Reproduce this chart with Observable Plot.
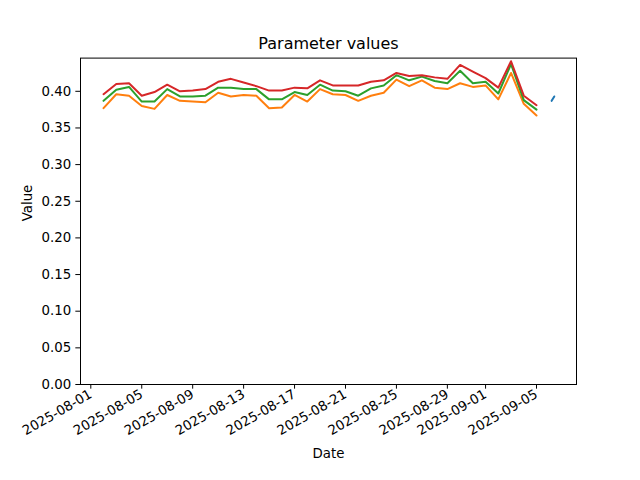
<!DOCTYPE html>
<html>
<head>
<meta charset="utf-8">
<script src="https://cdn.jsdelivr.net/npm/d3@7"></script>
<script src="https://cdn.jsdelivr.net/npm/@observablehq/plot@0.6"></script>
<style>
  html, body { margin: 0; padding: 0; background: white; }
</style>
</head>
<body>
<div id="chart"></div>
<script>
const dates = [
  "2025-08-02","2025-08-03","2025-08-04","2025-08-05","2025-08-06","2025-08-07","2025-08-08",
  "2025-08-09","2025-08-10","2025-08-11","2025-08-12","2025-08-13","2025-08-14","2025-08-15",
  "2025-08-16","2025-08-17","2025-08-18","2025-08-19","2025-08-20","2025-08-21","2025-08-22",
  "2025-08-23","2025-08-24","2025-08-25","2025-08-26","2025-08-27","2025-08-28","2025-08-29",
  "2025-08-30","2025-08-31","2025-09-01","2025-09-02","2025-09-03","2025-09-04","2025-09-05"
];
const upperValues = [
  0.396,0.410,0.411,0.394,0.399,0.409,0.400,
  0.401,0.403,0.413,0.417,0.412,0.407,0.401,
  0.401,0.405,0.404,0.415,0.408,0.408,0.408,
  0.413,0.415,0.425,0.421,0.422,0.419,0.417,
  0.436,0.427,0.418,0.405,0.441,0.394,0.381
];
const midValues = [
  0.387,0.402,0.406,0.386,0.386,0.403,0.393,
  0.393,0.394,0.405,0.405,0.403,0.403,0.389,
  0.389,0.399,0.395,0.409,0.401,0.400,0.394,
  0.404,0.408,0.422,0.415,0.420,0.414,0.411,
  0.428,0.411,0.413,0.397,0.437,0.388,0.375
];
const lowerValues = [
  0.377,0.396,0.394,0.380,0.376,0.395,0.387,
  0.386,0.385,0.398,0.393,0.395,0.394,0.377,
  0.378,0.395,0.386,0.403,0.396,0.395,0.387,
  0.394,0.398,0.416,0.407,0.415,0.405,0.403,
  0.411,0.406,0.408,0.389,0.425,0.383,0.367
];
const currentTimes = ["2025-09-06T04:30:00Z","2025-09-06T09:30:00Z"];
const currentValues = [0.387, 0.393];

const xTickLabels = ["2025-08-01","2025-08-05","2025-08-09","2025-08-13","2025-08-17",
  "2025-08-21","2025-08-25","2025-08-29","2025-09-01","2025-09-05"];
const yTickValues = [0, 0.05, 0.10, 0.15, 0.20, 0.25, 0.30, 0.35, 0.40];

const parse = d3.utcParse("%Y-%m-%d");
const seriesColors = {current: "#1f77b4", lower: "#ff7f0e", mid: "#2ca02c", upper: "#d62728"};

const rows = [];
currentTimes.forEach((t, i) => rows.push({date: new Date(t), value: currentValues[i], series: "current"}));
dates.forEach((d, i) => rows.push({date: parse(d), value: lowerValues[i], series: "lower"}));
dates.forEach((d, i) => rows.push({date: parse(d), value: midValues[i], series: "mid"}));
dates.forEach((d, i) => rows.push({date: parse(d), value: upperValues[i], series: "upper"}));

const chart = Plot.plot({
  width: 640,
  height: 480,
  marginLeft: 80,
  marginRight: 64,
  marginTop: 57.6,
  marginBottom: 96,
  style: {fontFamily: "DejaVu Sans", fontSize: "13.33px", background: "white", color: "black"},
  x: {type: "utc", domain: [new Date(Date.UTC(2025, 6, 31, 4, 34)), new Date(Date.UTC(2025, 8, 8, 3, 22))]},
  y: {domain: [0, 0.4453]},
  color: {domain: Object.keys(seriesColors), range: Object.values(seriesColors)},
  marks: [
    Plot.lineY(rows, {x: "date", y: "value", z: "series", stroke: "series", strokeWidth: 2}),
    Plot.frame({stroke: "black", strokeWidth: 1}),
    Plot.axisY({ticks: yTickValues, tickFormat: d3.format(".2f"), tickSize: 4.67, tickPadding: 4.67, label: null, fontSize: 13.33}),
    Plot.axisX({ticks: xTickLabels.map(parse), tickFormat: d3.utcFormat("%Y-%m-%d"), tickSize: 4.67, tickPadding: 4, tickRotate: -30, label: null, fontSize: 13.33}),
    Plot.text(["Parameter values"], {frameAnchor: "top", lineAnchor: "bottom", dy: -9, fontSize: 16}),
    Plot.text(["Value"], {frameAnchor: "left", rotate: -90, dx: -53, fontSize: 13.33}),
    Plot.text(["Date"], {frameAnchor: "bottom", dy: 73, fontSize: 13.33})
  ]
});
document.getElementById("chart").appendChild(chart);
</script>
</body>
</html>
